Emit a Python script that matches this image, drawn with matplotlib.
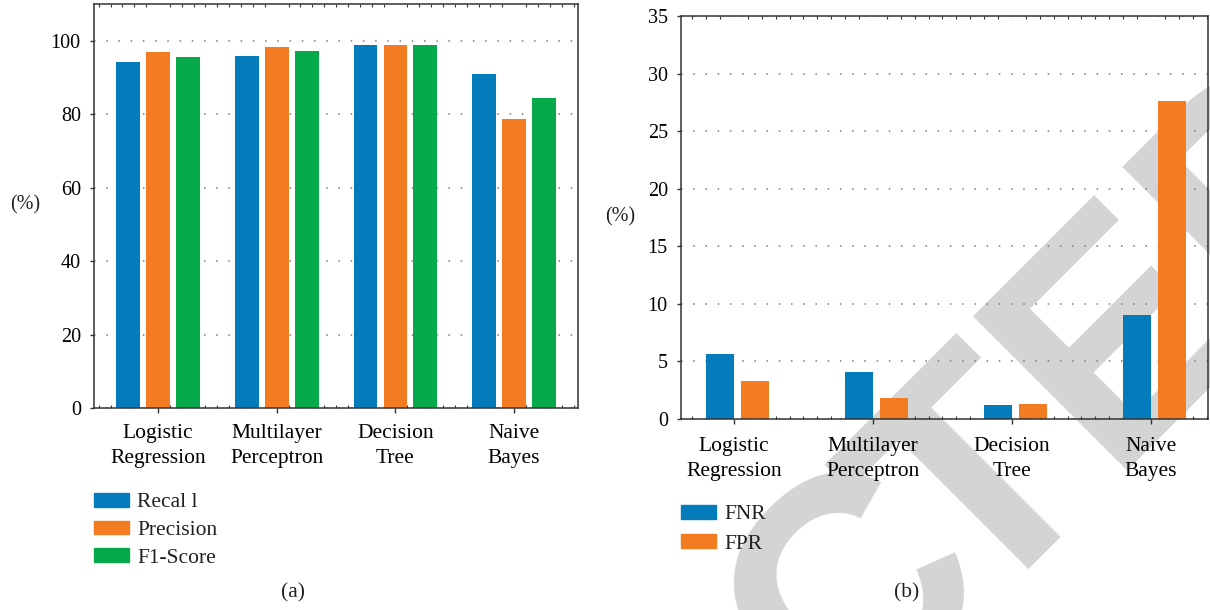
import matplotlib
matplotlib.use("Agg")
import matplotlib.pyplot as plt
import numpy as np
from matplotlib.patches import Patch
from matplotlib.ticker import MultipleLocator

plt.rcParams["font.family"] = ["Liberation Serif", "DejaVu Serif"]
plt.rcParams["text.color"] = "#231f20"

models = ["Logistic\nRegression", "Multilayer\nPerceptron", "Decision\nTree", "Naive\nBayes"]

# (a) detection scores, %
recall = [94.1, 95.8, 98.8, 90.9]
precision = [96.9, 98.2, 98.8, 78.6]
f1_score = [95.5, 97.1, 98.8, 84.4]

# (b) error rates, %
fnr = [5.65, 4.08, 1.22, 9.03]
fpr = [3.30, 1.82, 1.30, 27.6]

BLUE = "#047cbb"
ORANGE = "#f37c22"
GREEN = "#07aa4b"
DARK = "#333333"
FS = 14.5   # numbers
FW = 15.5   # words

fig = plt.figure(figsize=(12.1, 6.1), dpi=100)

# light watermark lettering behind both panels (set a little tighter at "CT")
wm = dict(rotation=45, rotation_mode="anchor", va="baseline", fontsize=228,
          fontweight="bold", family="Liberation Sans", color="#d4d4d4", zorder=-5)
fig.text(0.8248, 0.0623, "RETRAC", ha="right", **wm)
fig.text(0.8066, -0.0148, "TED", ha="left", **wm)

ax1 = fig.add_axes([0.0777, 0.3311, 0.4000, 0.6623])
ax2 = fig.add_axes([0.5628, 0.3131, 0.4355, 0.6607])


def style(ax, xpad):
    ax.set_facecolor("none")
    for sp in ax.spines.values():
        sp.set_color(DARK)
        sp.set_linewidth(1.1)
    ax.yaxis.grid(True, color="#7a7a7a", linestyle=(0, (1, 7)), linewidth=1.1)
    ax.set_axisbelow(True)
    ax.tick_params(axis="x", which="major", direction="out", length=3.6,
                   width=1.0, color=DARK, labelsize=FW, pad=xpad)
    ax.tick_params(axis="x", which="minor", direction="in", length=2,
                   width=0.8, color=DARK, top=True, bottom=True)
    ax.tick_params(axis="y", direction="out", length=3, width=1.0,
                   color=DARK, labelsize=FS, pad=6.5)
    ax.xaxis.set_minor_locator(MultipleLocator(0.1))
    ax.set_xticks(np.arange(len(models)))
    ax.set_xticklabels(models, linespacing=1.4)


x = np.arange(len(models))
w = 0.2

ax1.bar(x - 0.252, recall, w, color=BLUE, label="Recal l")
ax1.bar(x, precision, w, color=ORANGE, label="Precision")
ax1.bar(x + 0.252, f1_score, w, color=GREEN, label="F1-Score")
style(ax1, 8)
ax1.set_xlim(-0.539, 3.538)
ax1.set_ylim(0, 110)
ax1.set_yticks(np.arange(0, 101, 20))

ax2.bar(x - 0.1, fnr, w, color=BLUE, label="FNR")
ax2.bar(x + 0.15, fpr, w, color=ORANGE, label="FPR")
style(ax2, 9.5)
ax2.set_xlim(-0.381, 3.41)
ax2.set_ylim(0, 35)
ax2.set_yticks(np.arange(0, 36, 5))

fig.text(25 / 1210, 1 - 205 / 610, "(%)", fontsize=FS, ha="center", va="center")
fig.text(620 / 1210, 1 - 217 / 610, "(%)", fontsize=FS, ha="center", va="center")
fig.text(293 / 1210, 1 - 593 / 610, "(a)", fontsize=FW, ha="center", va="center")
fig.text(907 / 1210, 1 - 593 / 610, "(b)", fontsize=FW, ha="center", va="center")

leg_kw = dict(loc="upper left", frameon=False, fontsize=FW, borderpad=0,
              borderaxespad=0, handlelength=1.63, handleheight=0.6,
              handletextpad=0.37, labelspacing=0.38)
fig.legend(handles=[Patch(color=BLUE, label="Recal l"),
                    Patch(color=ORANGE, label="Precision"),
                    Patch(color=GREEN, label="F1-Score")],
           bbox_to_anchor=(94 / 1210, 1 - 493 / 610), **leg_kw)
fig.legend(handles=[Patch(color=BLUE, label="FNR"),
                    Patch(color=ORANGE, label="FPR")],
           bbox_to_anchor=(681 / 1210, 1 - 505 / 610),
           **{**leg_kw, "labelspacing": 0.45})

fig.savefig("out.png", dpi=100)
